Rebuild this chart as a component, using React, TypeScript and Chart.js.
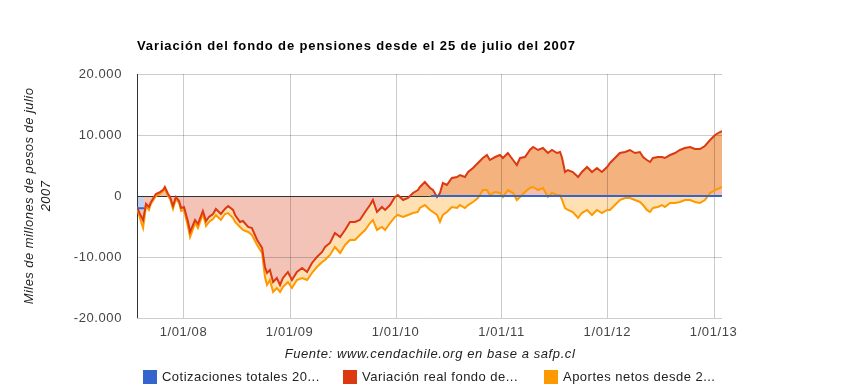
import React, { useEffect, useRef } from 'react';
import { Chart, registerables } from 'chart.js';

Chart.register(...registerables);

const FONT = 'Arial, "Liberation Sans", sans-serif';

const chartTitle = 'Variación del fondo de pensiones desde el 25 de julio del 2007';
const yAxisTitle = ['Miles de millones de pesos de julio', '2007'];
const footnote = 'Fuente: www.cendachile.org en base a safp.cl';
const legendLabels = ['Cotizaciones totales 20...', 'Variación real fondo de...', 'Aportes netos desde 2...'];
const seriesColors = ['#3366cc', '#dc3912', '#ff9900'];

// x axis: days since 25 July 2007
const xMaxDay = 2016;
const xTickDays = [160, 526, 891, 1256, 1621, 1987];
const xTickLabels = ['1/01/08', '1/01/09', '1/01/10', '1/01/11', '1/01/12', '1/01/13'];
const yTickValues = [-20000, -10000, 0, 10000, 20000];
const yTickLabels = ['-20.000', '-10.000', '0', '10.000', '20.000'];

const dayOffsets = [
  0, 10, 21, 31, 41, 48, 65, 79, 90, 96,
  107, 114, 124, 134, 145, 152, 162, 176, 183, 193,
  200, 210, 227, 238, 248, 262, 272, 289, 303, 314,
  331, 338, 355, 365, 383, 396, 414, 431, 441, 448,
  458, 469, 482, 493, 503, 520, 534, 551, 569, 586,
  603, 620, 638, 648, 665, 682, 700, 717, 734, 751,
  768, 786, 803, 813, 827, 844, 855, 872, 889, 899,
  917, 934, 951, 968, 975, 992, 1010, 1020, 1034, 1044,
  1054, 1068, 1085, 1103, 1113, 1130, 1141, 1158, 1175, 1192,
  1206, 1216, 1234, 1251, 1261, 1278, 1296, 1309, 1320, 1337,
  1354, 1365, 1382, 1399, 1416, 1430, 1447, 1458, 1465, 1475,
  1485, 1502, 1520, 1533, 1551, 1568, 1585, 1602, 1620, 1630,
  1647, 1664, 1682, 1699, 1716, 1733, 1744, 1757, 1768, 1778,
  1795, 1809, 1819, 1837, 1854, 1871, 1888, 1906, 1923, 1940,
  1957, 1975, 1992, 2009, 2016,
];

const variacionReal = [
  -1800, -2950, -3950, -1300, -1800, -1000, 330, 650, 1000, 1480,
  330, -160, -1640, -160, -820, -1970, -1800, -4260, -5900, -4750,
  -3930, -4590, -2460, -4100, -3440, -2950, -2130, -2950, -2130, -1640,
  -2290, -3110, -4260, -4100, -5080, -5250, -7210, -8520, -11640, -12620,
  -12130, -14100, -13440, -14590, -13440, -12460, -13770, -12460, -11800, -12460,
  -10980, -10000, -9180, -8360, -7700, -6060, -6720, -5570, -4260, -4260,
  -3930, -2620, -1480, -660, -2620, -1800, -2290, -1480, -160, 160,
  -660, -330, 490, 980, 1480, 2290, 1310, 980, -160, 490,
  2130, 1800, 2950, 3110, 3440, 3110, 3930, 4590, 5410, 6230,
  6720, 5900, 6390, 6720, 6230, 7050, 5900, 5080, 6230, 6390,
  7540, 8030, 7540, 7870, 7050, 7540, 7050, 7210, 6230, 3930,
  4260, 3930, 3110, 3930, 4750, 3930, 4590, 3930, 4750, 5410,
  6230, 7050, 7210, 7540, 7050, 7210, 6390, 5900, 5570, 6230,
  6390, 6390, 6230, 6720, 7050, 7540, 7870, 8030, 7700, 7700,
  8200, 9180, 10000, 10490, 10650,
];

const aportesNetos = [
  -1970, -3600, -5250, -1640, -2290, -1310, 0, 330, 820, 1150,
  0, -490, -2130, -490, -1150, -2460, -2290, -5080, -6720, -5410,
  -4430, -5250, -2950, -4920, -4260, -3770, -3110, -3930, -2950, -2790,
  -3610, -4260, -5080, -5570, -5900, -6390, -8030, -9340, -13280, -14590,
  -13770, -15740, -15080, -15740, -14920, -14100, -15080, -13770, -13440, -13770,
  -12620, -11640, -10820, -10490, -9670, -8360, -9340, -8030, -7210, -7210,
  -6390, -5570, -4430, -3930, -5570, -5080, -5570, -4430, -3440, -3110,
  -3440, -3110, -2790, -2620, -1970, -1480, -2290, -2620, -3110, -4260,
  -3110, -2620, -1800, -1970, -1480, -1970, -1480, -980, -330, 980,
  980, 160, 660, 490, -160, 980, 490, -660, -160, 660,
  1310, 1480, 980, 1310, -160, 490, 160, 160, -660, -1970,
  -2290, -2620, -3610, -2790, -2290, -3110, -2290, -2790, -2290, -2290,
  -1480, -660, -330, -330, -660, -980, -1480, -2290, -2620, -1970,
  -1800, -1480, -1800, -1150, -1150, -980, -660, -660, -980, -1150,
  -660, 490, 980, 1310, 1480,
];

const cotizacionesDays = [0, 24, 24, 1013, 2016];
const cotizacionesValues = [-2000, -2000, null, 0, 0];

function setSpacing(ctx: any, px: number) {
  if ('letterSpacing' in ctx) ctx.letterSpacing = `${px}px`;
}

const decorPlugin = {
  id: 'decor',
  beforeDatasetsDraw(chart: any) {
    const { ctx, chartArea: a, scales } = chart;
    const x = scales.x;
    const y = scales.y;
    ctx.save();
    ctx.lineWidth = 1;
    ctx.strokeStyle = 'rgba(0,0,0,0.2)';
    ctx.beginPath();
    yTickValues.forEach((v) => {
      if (v === 0) return;
      const py = Math.round(y.getPixelForValue(v)) + 0.5;
      ctx.moveTo(a.left, py);
      ctx.lineTo(a.right, py);
    });
    xTickDays.forEach((d) => {
      const px = Math.round(x.getPixelForValue(d)) + 0.5;
      ctx.moveTo(px, a.top);
      ctx.lineTo(px, a.bottom);
    });
    ctx.stroke();
    ctx.strokeStyle = '#333333';
    ctx.beginPath();
    const zy = Math.round(y.getPixelForValue(0)) + 0.5;
    ctx.moveTo(a.left, zy);
    ctx.lineTo(a.right, zy);
    const lx = Math.round(a.left) + 0.5;
    ctx.moveTo(lx, a.top);
    ctx.lineTo(lx, a.bottom);
    ctx.stroke();
    ctx.restore();
  },
  afterDraw(chart: any) {
    const { ctx, chartArea: a, scales } = chart;
    const x = scales.x;
    const y = scales.y;
    ctx.save();
    // tick labels
    ctx.fillStyle = '#444444';
    ctx.font = `13px ${FONT}`;
    ctx.textBaseline = 'middle';
    setSpacing(ctx, 0.6);
    ctx.textAlign = 'center';
    xTickDays.forEach((d, i) => {
      ctx.fillText(xTickLabels[i], x.getPixelForValue(d), a.bottom + 14);
    });
    ctx.textAlign = 'right';
    yTickValues.forEach((v, i) => {
      ctx.fillText(yTickLabels[i], a.left - 15, y.getPixelForValue(v));
    });
    // title
    ctx.fillStyle = '#000000';
    ctx.font = `bold 13px ${FONT}`;
    ctx.textAlign = 'left';
    setSpacing(ctx, 0.88);
    ctx.fillText(chartTitle, 137, 46);
    // footnote (x axis title)
    ctx.fillStyle = '#222222';
    ctx.font = `italic 13px ${FONT}`;
    ctx.textAlign = 'center';
    setSpacing(ctx, 0.58);
    ctx.fillText(footnote, 430, 354);
    // y axis title
    setSpacing(ctx, 0.45);
    ctx.save();
    ctx.translate(29, 196);
    ctx.rotate(-Math.PI / 2);
    ctx.fillText(yAxisTitle[0], 0, 0);
    ctx.restore();
    ctx.save();
    ctx.translate(46, 196);
    ctx.rotate(-Math.PI / 2);
    ctx.fillText(yAxisTitle[1], 0, 0);
    ctx.restore();
    // legend
    const legendX = [143, 343, 544];
    ctx.font = `13px ${FONT}`;
    ctx.textAlign = 'left';
    setSpacing(ctx, 0.48);
    legendLabels.forEach((label, i) => {
      ctx.fillStyle = seriesColors[i];
      ctx.fillRect(legendX[i], 370, 14, 14);
      ctx.fillStyle = '#222222';
      ctx.fillText(label, legendX[i] + 19, 377);
    });
    ctx.restore();
  },
};

export default function App() {
  const ref = useRef<HTMLCanvasElement>(null);
  useEffect(() => {
    const toPoints = (xs: number[], ys: (number | null)[]) => xs.map((d, i) => ({ x: d, y: ys[i] }));
    const chart = new Chart(ref.current as HTMLCanvasElement, {
      type: 'line',
      data: {
        datasets: [
          {
            label: legendLabels[0],
            data: toPoints(cotizacionesDays, cotizacionesValues),
            borderColor: seriesColors[0],
            borderWidth: 2,
            fill: { target: 'origin', above: '#c2d1f0', below: '#c2d1f0' },
            spanGaps: false,
            order: 0,
          },
          {
            label: legendLabels[1],
            data: toPoints(dayOffsets, variacionReal),
            borderColor: seriesColors[1],
            borderWidth: 2,
            fill: { target: 'origin', above: '#f4b27f', below: '#f4c3b8' },
            order: 2,
          },
          {
            label: legendLabels[2],
            data: toPoints(dayOffsets, aportesNetos),
            borderColor: seriesColors[2],
            borderWidth: 2,
            fill: { target: 'origin', above: '#f1bfae', below: '#ffe0b2' },
            order: 3,
          },
          {
            label: 'overlap',
            data: toPoints(dayOffsets, aportesNetos.map((v) => Math.max(v, 0))),
            borderColor: 'rgba(0,0,0,0)',
            borderWidth: 0,
            fill: { target: 'origin', above: '#f1bfae', below: 'rgba(0,0,0,0)' },
            order: 1,
          },
        ],
      } as any,
      options: {
        responsive: false,
        animation: false,
        events: [],
        layout: { padding: { left: 0, top: 74, right: 136, bottom: 14 } },
        elements: { point: { radius: 0 }, line: { tension: 0 } },
        plugins: {
          legend: { display: false },
          title: { display: false },
          tooltip: { enabled: false },
          filler: { drawTime: 'beforeDatasetsDraw', propagate: false },
        },
        scales: {
          x: {
            type: 'linear',
            min: 0,
            max: xMaxDay,
            afterBuildTicks: (s: any) => {
              s.ticks = xTickDays.map((v) => ({ value: v }));
            },
            afterFit: (s: any) => {
              s.height = 60;
            },
            grid: { display: false, drawTicks: false },
            border: { display: false },
            ticks: { display: false, autoSkip: false, maxRotation: 0 },
          },
          y: {
            type: 'linear',
            min: -20000,
            max: 20000,
            afterBuildTicks: (s: any) => {
              s.ticks = yTickValues.map((v) => ({ value: v }));
            },
            afterFit: (s: any) => {
              s.width = 137;
            },
            grid: { display: false, drawTicks: false },
            border: { display: false },
            ticks: { display: false, autoSkip: false },
          },
        },
      } as any,
      plugins: [decorPlugin],
    });
    return () => chart.destroy();
  }, []);
  return (
    <div style={{ position: 'absolute', left: 0, top: 0, width: 858, height: 392, background: '#ffffff' }}>
      <canvas ref={ref} width={858} height={392} style={{ display: 'block', width: 858, height: 392 }} />
    </div>
  );
}
